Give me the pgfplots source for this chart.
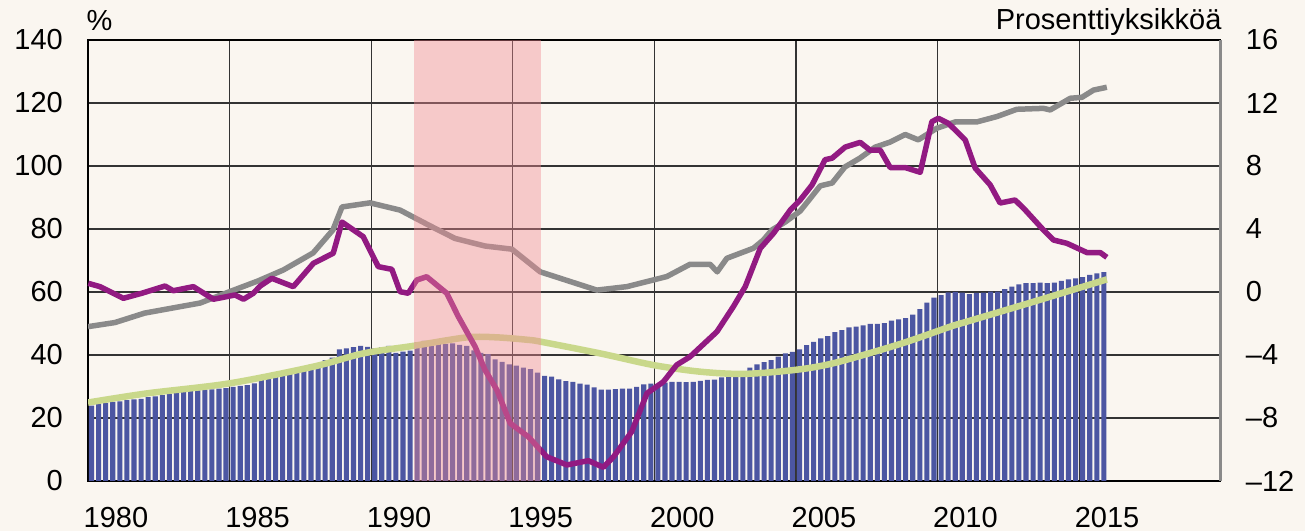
\documentclass[border=0pt]{standalone}
\usepackage{pgfplots}
\pgfplotsset{compat=1.18}
\usepackage{pgfplotstable}
\usepackage{fontspec}
\setmainfont{Liberation Sans}
\definecolor{bgc}{RGB}{250,246,240}
\definecolor{barc}{RGB}{76,86,162}
\definecolor{grayc}{RGB}{138,138,138}
\definecolor{purc}{RGB}{146,26,130}
\definecolor{greenc}{RGB}{201,216,139}
\definecolor{pinkc}{RGB}{241,138,147}

\pgfplotstableread{
t v
1980.125 23.9
1980.375 24.4
1980.625 24.7
1980.875 25.1
1981.125 25.3
1981.375 25.7
1981.625 25.9
1981.875 26.1
1982.125 26.6
1982.375 26.9
1982.625 27.3
1982.875 27.6
1983.125 27.9
1983.375 28.2
1983.625 28.6
1983.875 28.8
1984.125 29.0
1984.375 29.1
1984.625 29.3
1984.875 29.5
1985.125 29.9
1985.375 30.2
1985.625 30.4
1985.875 31.0
1986.125 32.0
1986.375 33.7
1986.625 33.8
1986.875 34.0
1987.125 34.2
1987.375 34.7
1987.625 36.1
1987.875 36.9
1988.125 37.4
1988.375 38.4
1988.625 39.2
1988.875 41.8
1989.125 42.1
1989.375 42.5
1989.625 42.9
1989.875 42.6
1990.125 42.1
1990.375 42.4
1990.625 42.9
1990.875 40.7
1991.125 41.1
1991.375 41.4
1991.625 44.0
1991.875 44.5
1992.125 44.3
1992.375 44.0
1992.625 43.5
1992.875 43.7
1993.125 43.2
1993.375 42.9
1993.625 41.5
1993.875 40.7
1994.125 40.3
1994.375 38.6
1994.625 37.8
1994.875 37.0
1995.125 36.6
1995.375 36.0
1995.625 35.5
1995.875 34.4
1996.125 33.4
1996.375 33.1
1996.625 32.3
1996.875 31.7
1997.125 31.5
1997.375 30.9
1997.625 30.6
1997.875 29.7
1998.125 29.0
1998.375 29.0
1998.625 29.2
1998.875 29.3
1999.125 29.3
1999.375 29.9
1999.625 30.7
1999.875 30.9
2000.125 30.8
2000.375 31.2
2000.625 31.5
2000.875 31.5
2001.125 31.4
2001.375 31.5
2001.625 31.8
2001.875 32.1
2002.125 32.2
2002.375 32.9
2002.625 33.1
2002.875 33.4
2003.125 33.9
2003.375 36.0
2003.625 37.0
2003.875 37.7
2004.125 38.4
2004.375 39.5
2004.625 40.5
2004.875 41.0
2005.125 41.8
2005.375 43.1
2005.625 44.2
2005.875 45.3
2006.125 46.0
2006.375 47.3
2006.625 47.9
2006.875 48.8
2007.125 49.0
2007.375 49.4
2007.625 49.9
2007.875 49.9
2008.125 50.1
2008.375 50.9
2008.625 51.3
2008.875 51.7
2009.125 52.8
2009.375 54.6
2009.625 56.6
2009.875 58.2
2010.125 59.0
2010.375 59.9
2010.625 60.0
2010.875 59.8
2011.125 59.3
2011.375 59.7
2011.625 59.8
2011.875 60.1
2012.125 60.1
2012.375 60.9
2012.625 61.7
2012.875 62.4
2013.125 62.8
2013.375 62.8
2013.625 63.0
2013.875 62.8
2014.125 63.0
2014.375 63.5
2014.625 64.0
2014.875 64.3
2015.125 64.7
2015.375 65.4
2015.625 65.9
2015.875 66.3
}\bars

\pgfplotstableread{
t v
1980.00 49.0
1980.95 50.3
1982.00 53.3
1983.96 56.5
1985.00 60.1
1986.00 63.5
1986.90 67.0
1987.95 72.4
1988.65 79.7
1988.97 87.0
1989.96 88.3
1991.02 86.0
1992.08 81.0
1992.96 77.0
1994.02 74.6
1994.97 73.6
1995.97 66.4
1997.97 60.6
1999.03 61.7
2000.44 64.9
2001.26 68.8
2001.97 68.8
2002.22 66.4
2002.56 70.7
2003.03 72.3
2003.50 73.9
2003.85 76.5
2004.15 79.7
2004.62 82.2
2005.15 85.7
2005.86 93.7
2006.28 94.6
2006.73 99.7
2007.26 102.5
2007.80 106.0
2008.33 107.6
2008.86 110.0
2009.32 108.3
2009.98 112.0
2010.63 114.0
2011.39 114.0
2012.10 115.7
2012.80 118.0
2013.74 118.3
2013.98 117.8
2014.69 121.5
2015.10 121.8
2015.51 124.1
2015.98 125.0
}\grayt

\pgfplotstableread{
t v
1980.00 24.9
1982.07 27.8
1985.00 31.0
1987.96 36.3
1989.72 40.5
1991.49 42.9
1993.38 45.6
1994.44 45.6
1995.55 44.8
1996.00 44.2
1998.09 40.5
1999.97 36.8
2001.62 34.7
2003.15 34.0
2004.91 35.2
2006.33 37.4
2008.68 43.5
2010.45 49.0
2011.04 50.6
2013.39 56.9
2015.98 64.0
}\greent

\pgfplotstableread{
t v
1980.01 0.55
1980.42 0.34
1981.25 -0.40
1981.90 -0.08
1982.72 0.38
1983.01 0.08
1983.72 0.34
1984.43 -0.46
1985.19 -0.19
1985.49 -0.46
1985.84 -0.08
1986.08 0.38
1986.49 0.87
1987.25 0.34
1987.96 1.82
1988.66 2.46
1988.97 4.44
1989.72 3.51
1990.25 1.61
1990.73 1.44
1991.02 0.02
1991.31 -0.08
1991.61 0.76
1991.96 0.97
1992.67 -0.08
1993.08 -1.57
1993.67 -3.47
1994.02 -4.95
1994.44 -6.22
1994.91 -8.34
1995.55 -9.19
1996.20 -10.46
1996.91 -10.98
1997.67 -10.71
1998.20 -11.13
1998.56 -10.46
1999.20 -8.87
1999.74 -6.43
2000.32 -5.70
2000.79 -4.63
2001.26 -4.11
2002.21 -2.52
2002.79 -0.93
2003.21 0.34
2003.74 2.77
2004.21 3.73
2004.80 5.20
2005.15 5.84
2005.57 6.80
2006.03 8.40
2006.28 8.50
2006.74 9.20
2007.27 9.50
2007.62 9.00
2007.98 9.00
2008.33 7.90
2008.86 7.90
2009.39 7.60
2009.80 10.81
2010.03 11.03
2010.39 10.70
2010.98 9.65
2011.33 7.87
2011.86 6.80
2012.21 5.65
2012.74 5.84
2013.10 5.20
2013.74 3.94
2014.10 3.30
2014.57 3.09
2015.28 2.50
2015.75 2.50
2015.98 2.20
}\purt

\begin{document}
\begin{tikzpicture}
\fill[bgc] (0,0) rectangle (1305bp,531bp);
\begin{axis}[
  at={(88bp,50bp)}, anchor=south west, scale only axis,
  width=1132.7bp, height=441bp,
  xmin=1980, xmax=2020, ymin=0, ymax=140,
  xtick={1980,1985,...,2015},
  xticklabels={1980,1985,1990,1995,2000,2005,2010,2015},
  ytick={0,20,...,140},
  yticklabels={0,20,40,60,80,100,120,140},
  major tick length=0pt,
  xmajorgrids, ymajorgrids,
  grid style={black!80, line width=1.2bp},
  axis line style={black, line width=1.5bp},
  tick label style={font=\fontsize{29bp}{34bp}\selectfont},
  xticklabel style={anchor=north west, inner sep=0pt, xshift=-4.5bp, yshift=-26bp},
  yticklabel style={anchor=east, inner sep=0pt, xshift=-25bp},
]
\addplot[ybar, bar width=0.18, fill=barc, draw=none] table[x=t,y=v]{\bars};
\addplot[grayc, line width=5.5bp, line join=round] table[x=t,y=v]{\grayt};
\addplot[greenc, line width=6.5bp, smooth, line join=round] table[x=t,y=v]{\greent};
\end{axis}
\begin{axis}[
  at={(88bp,50bp)}, anchor=south west, scale only axis,
  width=1132.7bp, height=441bp,
  xmin=1980, xmax=2020, ymin=-12, ymax=16,
  axis x line=none, axis y line*=right,
  clip=false,
  xtick=\empty,
  ytick={-12,-8,...,16},
  yticklabels={--12,--8,--4,0,4,8,12,16},
  major tick length=0pt,
  axis line style={draw=grayc, line width=2.5bp, -},
  tick label style={font=\fontsize{29bp}{34bp}\selectfont},
  yticklabel style={anchor=west, inner sep=0pt, xshift=25bp},
]
\addplot[purc, line width=5.5bp, line join=round] table[x=t,y=v]{\purt};
\addplot[fill=pinkc, draw=none, opacity=0.41] coordinates {(1991.5,-12) (1991.5,16) (1996,16) (1996,-12)} --cycle;
\node[anchor=base west, inner sep=0pt, font=\fontsize{29bp}{34bp}\selectfont] at (rel axis cs:0,1) [xshift=-1.5bp, yshift=9.3bp] {\%};
\node[anchor=base east, inner sep=0pt, font=\fontsize{29bp}{34bp}\selectfont] at (rel axis cs:1,1) [xshift=1bp, yshift=10.7bp] {Prosenttiyksikköä};
\end{axis}
\end{tikzpicture}
\end{document}
